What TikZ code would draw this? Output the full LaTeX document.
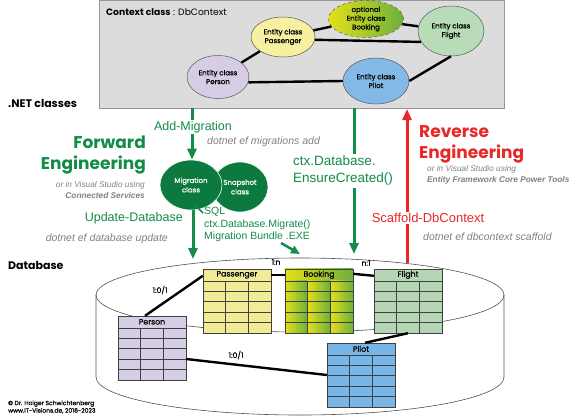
\documentclass[tikz,border=0pt]{standalone}
\usepackage{fontspec}
\setmainfont{Liberation Sans}
\newfontfamily\fut{Poppins}
\newfontfamily\futm[FakeBold=0.8]{Poppins}
\usetikzlibrary{shapes.geometric,arrows.meta,calc}
\definecolor{fgreen}{RGB}{18,140,72}
\definecolor{mgreen}{RGB}{12,122,62}
\definecolor{rred}{RGB}{232,40,40}
\definecolor{cgray}{RGB}{128,128,128}
\definecolor{boxgray}{RGB}{220,220,220}
\definecolor{boxline}{RGB}{150,150,150}
\definecolor{passfill}{RGB}{246,240,160}
\definecolor{flightfill}{RGB}{184,220,184}
\definecolor{personfill}{RGB}{214,204,228}
\definecolor{pilotfill}{RGB}{130,185,230}
\definecolor{byel}{RGB}{228,224,24}
\definecolor{bgrn}{RGB}{108,176,62}
\definecolor{tpass}{RGB}{240,236,150}
\definecolor{tflight}{RGB}{180,214,180}
\definecolor{tperson}{RGB}{214,206,228}
\definecolor{tpilot}{RGB}{120,182,232}
\definecolor{cylline}{RGB}{80,80,80}
\newcommand\tabgrid[1]{%
  \draw[gridl] ($(#1.north west)+(0,12)$) -- ($(#1.north east)+(0,12)$);
  \foreach \k in {1,...,4} {\draw[gridl] ($(#1.north west)+(0,12+\k*10.4)$) -- ($(#1.north east)+(0,12+\k*10.4)$);}
  \draw[gridl] ($(#1.north west)!1/3!(#1.north east)+(0,12)$) -- ($(#1.south west)!1/3!(#1.south east)$);
  \draw[gridl] ($(#1.north west)!2/3!(#1.north east)+(0,12)$) -- ($(#1.south west)!2/3!(#1.south east)$);
  \draw[gridl] (#1.north west) rectangle (#1.south east);
}
\begin{document}
\begin{tikzpicture}[x=1pt,y=-1pt,
  ent/.style={ellipse, draw=black!65, line width=0.5pt, inner sep=0pt, align=center, font=\futm\fontsize{7}{8.8}\selectfont},
  rel/.style={line width=2.4pt, black},
  tab/.style={rectangle, minimum width=68, minimum height=64, inner sep=0pt},
  gridl/.style={draw=black!75, line width=0.6pt},
  tabtitle/.style={font=\futm\fontsize{7.8}{8}\selectfont, inner sep=0pt},
  garrow/.style={draw=fgreen, line width=3pt, -{Triangle[length=11pt,width=9pt]}},
  rarrow/.style={draw=rred, line width=3pt, -{Triangle[length=11pt,width=9pt]}},
  glabel/.style={text=fgreen, inner sep=1pt, fill=white, font=\fontsize{12.5}{14}\selectfont},
  cmd/.style={text=cgray, inner sep=0pt, font=\itshape\fontsize{10.5}{12}\selectfont},
  sub/.style={text=cgray, inner sep=0pt, font=\itshape\fontsize{8.3}{11}\selectfont},
  heading/.style={inner sep=0pt, font=\fut\bfseries\fontsize{17}{21}\selectfont},
  side/.style={inner sep=0pt, font=\fut\bfseries\fontsize{11}{13}\selectfont, anchor=west},
  card/.style={inner sep=0pt, font=\futm\fontsize{7.6}{8}\selectfont},
  mig/.style={ellipse, fill=mgreen, draw=white, line width=0.6pt, inner sep=0pt, align=center, text=white, font=\futm\fontsize{7}{9.5}\selectfont}
]
\useasboundingbox (0,0) rectangle (580,418);

% ---- context box ----
\node[rectangle, draw=boxline, fill=boxgray, line width=0.6pt, minimum width=405, minimum height=108, anchor=north west, inner sep=0pt] (ctx) at (99,0) {};
\node[anchor=west, inner sep=0pt, font=\fut\fontsize{9.2}{10}\selectfont] (ctxtitle) at (106,12) {\textbf{Context class} : DbContext};

\node[ent, fill=passfill, minimum width=64, minimum height=40] (epass) at (283,37) {Entity class\\Passenger};
\node[ent, dashed, left color=byel, right color=bgrn, minimum width=75, minimum height=37] (ebook) at (366,19) {optional\\Entity class\\Booking};
\node[ent, fill=flightfill, minimum width=66, minimum height=50] (eflight) at (451,31) {Entity class\\Flight};
\node[ent, fill=personfill, minimum width=62, minimum height=43] (eperson) at (218,77) {Entity class\\Person};
\node[ent, fill=pilotfill, minimum width=66, minimum height=46] (epilot) at (376,81) {Entity class\\Pilot};

\draw[rel] (eperson) -- (epass);
\draw[rel] (epass) -- (ebook);
\draw[rel] (epass.-5) -- (eflight.200);
\draw[rel] (ebook) -- (eflight);
\draw[rel] (eperson.-10) -- (epilot.west);
\draw[rel] (epilot.east) -- (eflight.south);

\node[side] (netlbl) at (8,103) {.NET classes};
\node[side] (dblbl) at (8,265) {Database};

% ---- cylinder ----
\draw[cylline, line width=0.6pt, fill=white] (96,295) -- (96,377) arc[start angle=180, end angle=0, x radius=204, y radius=38] -- (504,295);
\draw[cylline, line width=0.6pt] (300,295) ellipse [x radius=204, y radius=37];

% ---- forward engineering ----
\node[mig, minimum width=56, minimum height=50] (snap) at (240,187) {Snapshot\\class};
\node[mig, minimum width=62, minimum height=50] (mig) at (191,185) {Migration\\class};

\coordinate (am-top) at (192,108);
\draw[garrow] (am-top) -- (am-top |- mig.north);
\node[glabel] (addmig) at (193,127) {Add-Migration};
\node[cmd, anchor=west] (cmdadd) at (207,142) {dotnet ef migrations add};

\node[heading, text=fgreen, align=right, anchor=east] (fwd) at (146,155) {Forward\\Engineering};
\node[sub, align=right, anchor=east] (fwdsub) at (145,190) {or in Visual Studio using\\\textbf{Connected Services}};

\coordinate (ud-end) at (193,259);
\draw[garrow] (ud-end |- mig.south) -- (ud-end);
\node[glabel, anchor=east, fill=none] (updb) at (184,218) {Update-Database};
\node[cmd, anchor=east] (cmdupd) at (168,239) {dotnet ef database update};

\node[anchor=north west, text=fgreen, align=left, inner sep=0pt, font=\fontsize{10.5}{12.5}\selectfont] (sql) at (204,207) {SQL\\ctx.Database.Migrate()\\Migration Bundle .EXE};
\coordinate (sqlfoot) at (196,206);
\draw[fgreen, line width=1.5pt] (sqlfoot) -- ($(sql.north west)+(-1,6)$);
\coordinate (bundle-start) at (281,243);
\coordinate (bundle-end) at (300,254);
\draw[garrow, line width=2.5pt, -{Triangle[length=9pt,width=8pt]}] (bundle-start) -- (bundle-end);

% ---- EnsureCreated ----
\coordinate (ec-top) at (354,108);
\coordinate (ec-end) at (354,254);
\draw[garrow] (ec-top) -- (ec-end);
\node[glabel, anchor=west, align=left, inner sep=2pt, font=\fontsize{13.5}{17}\selectfont] (ensure) at (291,171) {ctx.Database.\\EnsureCreated()};

% ---- reverse engineering ----
\coordinate (rv-bot) at (407,263);
\coordinate (rv-top) at (407,109);
\draw[rarrow] (rv-bot) -- (rv-top);
\node[heading, text=rred, align=left, anchor=west] (rev) at (419,144) {Reverse\\Engineering};
\node[sub, align=left, anchor=west] (revsub) at (427,175) {or in Visual Studio using\\\textbf{Entity Framework Core Power Tools}};
\node[glabel, text=rred, font=\fontsize{13}{15}\selectfont] (scaf) at (428,218) {Scaffold-DbContext};
\node[cmd, anchor=west] (cmdscaf) at (423,237) {dotnet ef dbcontext scaffold};

% ---- tables ----
\node[tab, fill=tpass] (tpassn) at (237,301) {};
\tabgrid{tpassn}
\node[tabtitle] (tpasst) at ($(tpassn.north)+(0,6)$) {Passenger};

\node[tab] (tbook) at (319,301) {};
\shade[left color=byel, right color=bgrn] (tbook.north west) rectangle ($(tbook.north east)+(0,12)$);
\foreach \i/\j in {0/1,1/2,2/3} {
  \shade[left color=byel, right color=bgrn] ($(tbook.north west)!\i/3!(tbook.north east)+(0,12)$) rectangle ($(tbook.south west)!\j/3!(tbook.south east)$);
}
\tabgrid{tbook}
\node[tabtitle] (tbookt) at ($(tbook.north)+(0,6)$) {Booking};

\node[tab, fill=tflight] (tflightn) at (408,301) {};
\tabgrid{tflightn}
\node[tabtitle] (tflightt) at ($(tflightn.north)+(0,6)$) {Flight};

\node[tab, fill=tperson] (tpersonn) at (152,348) {};
\tabgrid{tpersonn}
\node[tabtitle] (tpersont) at ($(tpersonn.north)+(0,6)$) {Person};

\node[tab, fill=tpilot] (tpilotn) at (361,375) {};
\tabgrid{tpilotn}
\node[tabtitle] (tpilott) at ($(tpilotn.north)+(0,6)$) {Pilot};

\draw[rel] ($(tpersonn.north)+(-7,0)$) -- ($(tpassn.north west)+(0,7)$);
\draw[rel] ($(tpassn.north east)+(0,6)$) -- ($(tbook.north west)+(0,6)$);
\draw[rel] ($(tbook.north east)+(0,5)$) -- ($(tflightn.north west)+(0,7)$);
\draw[rel] (tflightn.south) -- ($(tpilotn.north)+(4,0)$);
\draw[rel] ($(tpersonn.east)+(0,11)$) -- (tpilotn.west);

\node[card] (c1) at (160,290) {1:0/1};
\node[card] (c2) at (276,262) {1:n};
\node[card] (c3) at (366,263) {n:1};
\node[card] (c4) at (236,355) {1:0/1};

\node[anchor=west, align=left, inner sep=0pt, font=\futm\fontsize{6}{7.5}\selectfont] (copy) at (8,407) {© Dr. Holger Schwichtenberg\\www.IT-Visions.de, 2016-2023};
\end{tikzpicture}
\end{document}
